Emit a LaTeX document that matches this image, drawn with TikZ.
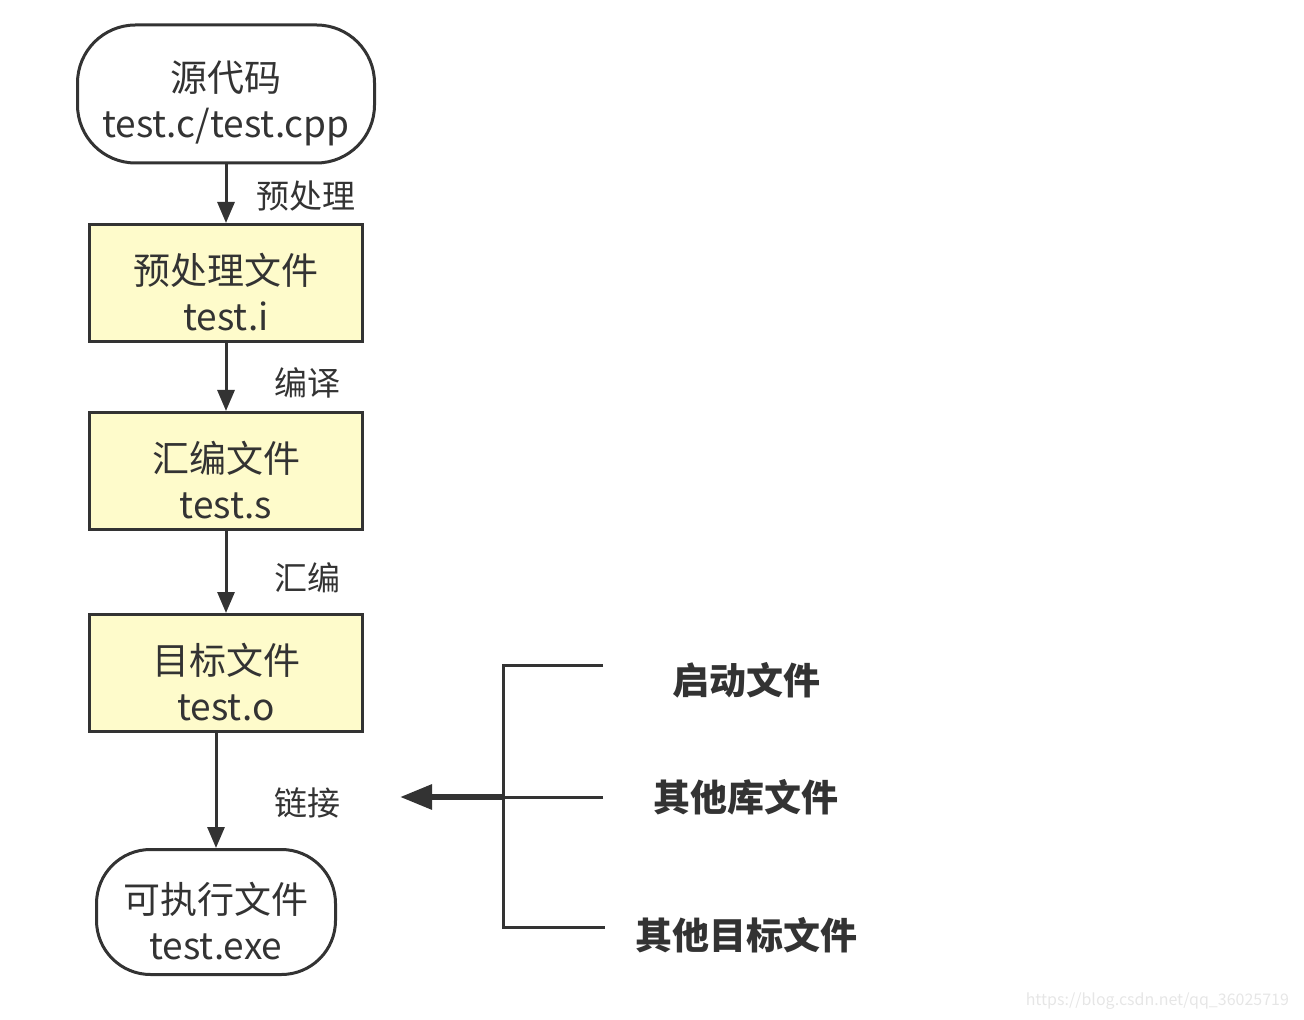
\documentclass[tikz,border=0pt]{standalone}
\usepackage{fontspec}
\setmainfont{Noto Sans CJK SC}
\usepackage{tikz}
\usetikzlibrary{arrows.meta}

\definecolor{ink}{HTML}{333333}
\definecolor{paleyellow}{HTML}{FEFBCB}
\definecolor{mark}{HTML}{E6E6E6}

% a taller first line pushes the two lines down a little
\newcommand{\lowstrut}{\rule{0pt}{24.5pt}}

\tikzset{
  box/.style={draw=ink, line width=1.5pt, fill=paleyellow, minimum width=136.5pt,
    minimum height=58.5pt, inner sep=0pt, align=center, text=ink,
    font=\fontsize{18.5}{23}\selectfont},
  term/.style={box, fill=white, rounded corners=29pt},
  flow/.style={draw=ink, line width=1.5pt, -{Triangle[length=10.5pt,width=8.5pt]}},
  lbl/.style={text=ink, font=\fontsize{16.5}{20}\selectfont},
  part/.style={text=ink, font=\fontsize{18.5}{22}\selectfont\bfseries},
  wire/.style={draw=ink, line width=1.5pt},
  fat/.style={draw=ink, line width=3pt, -{Triangle[length=16pt,width=12pt]}}
}

\begin{document}
\begin{tikzpicture}[x=0.5pt,y=-0.5pt]
  \useasboundingbox (0,0) rectangle (1304,1020);

  % left column
  \node[term, minimum width=148.5pt, minimum height=69pt] (src) at (226,94) {\lowstrut 源代码\\test.c/test.cpp};
  \node[box] (pre) at (226,283) {\lowstrut 预处理文件\\test.i};
  \node[box] (asm) at (226,471) {\lowstrut 汇编文件\\test.s};
  \node[box] (obj) at (226,673) {\lowstrut 目标文件\\test.o};
  \node[term, minimum width=119.5pt, minimum height=62.5pt, rounded corners=27pt] (exe) at (216,912) {\lowstrut 可执行文件\\test.exe};

  \draw[flow] (src) -- (pre);
  \draw[flow] (pre) -- (asm);
  \draw[flow] (asm) -- (obj);
  \draw[flow] (obj.south -| exe.north) -- (exe);

  \node[lbl] (lbPre) at (306,196) {预处理};
  \node[lbl] (lbCmp) at (307,383) {编译};
  \node[lbl] (lbAsm) at (307,578) {汇编};
  \node[lbl] (lbLnk) at (307,803) {链接};

  % inputs of the linker
  \node[part] (crt) at (746,680) {启动文件};
  \node[part] (lib) at (746,797) {其他库文件};
  \node[part] (oth) at (746,935) {其他目标文件};

  \coordinate (bTop) at (603,665);
  \coordinate (bMid) at (603,797);
  \coordinate (bBot) at (605,927);
  \coordinate (jTop) at (503,665);
  \coordinate (jMid) at (503,797);
  \coordinate (jBot) at (503,927);
  \coordinate (tip) at (400,797);

  \draw[wire] (bTop) -- (jTop) -- (jBot) -- (bBot);
  \draw[wire] (bMid) -- (jMid);
  \draw[fat] (jMid) -- (tip);

  \node[text=mark, font=\fontsize{8}{10}\selectfont, anchor=east] (wm) at (1296,1001) {https://blog.csdn.net/qq\_36025719};
\end{tikzpicture}
\end{document}
